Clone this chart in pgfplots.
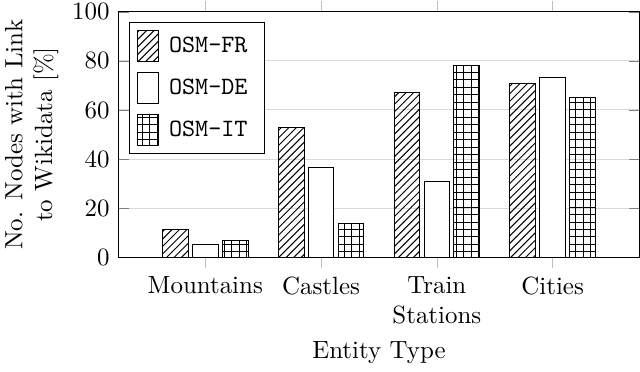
\documentclass[border=0pt]{standalone}
\usepackage{pgfplots}
\pgfplotsset{compat=1.18}
\usetikzlibrary{patterns}
\begin{document}
\begin{tikzpicture}
\begin{axis}[
	ybar=1.7pt,
	bar width=10.3pt,
	scale only axis,
	width=209pt,
	height=98.5pt,
	ymin=0,
	ymax=100,
	ytick={0,20,...,100},
	yticklabel style={inner ysep=1.5pt},
	xmin=-0.75,
	xmax=3.75,
	xtick={0,1,2,3},
	xticklabels={Mountains,Castles,Train\\Stations,Cities},
	xticklabel style={align=center},
	xtick align=outside,
	x tick style={gray!50},
	ymajorgrids,
	grid style={gray!30},
	ylabel={No. Nodes with Link\\to Wikidata [\%]},
	ylabel style={align=center,inner sep=2pt},
	xlabel={Entity Type},
	legend style={at={(0.02,0.96)},anchor=north west,font=\ttfamily,
		row sep=4pt,inner ysep=3pt,nodes={inner xsep=4pt}},
	legend image code/.code={\draw[#1] (0pt,-6pt) rectangle (8.5pt,6.5pt);},
]

% OSM-FR
\addplot[draw=black,pattern=north east lines] coordinates {
	(0,11.3) (1,52.8) (2,67.3) (3,70.8)
};
\addlegendentry{OSM-FR}

% OSM-DE
\addplot[draw=black,fill=white] coordinates {
	(0,5.2) (1,36.5) (2,30.9) (3,73.1)
};
\addlegendentry{OSM-DE}

% OSM-IT
\addplot[draw=black,pattern=grid] coordinates {
	(0,6.8) (1,13.8) (2,78.2) (3,64.9)
};
\addlegendentry{OSM-IT}

\end{axis}
\end{tikzpicture}
\end{document}
